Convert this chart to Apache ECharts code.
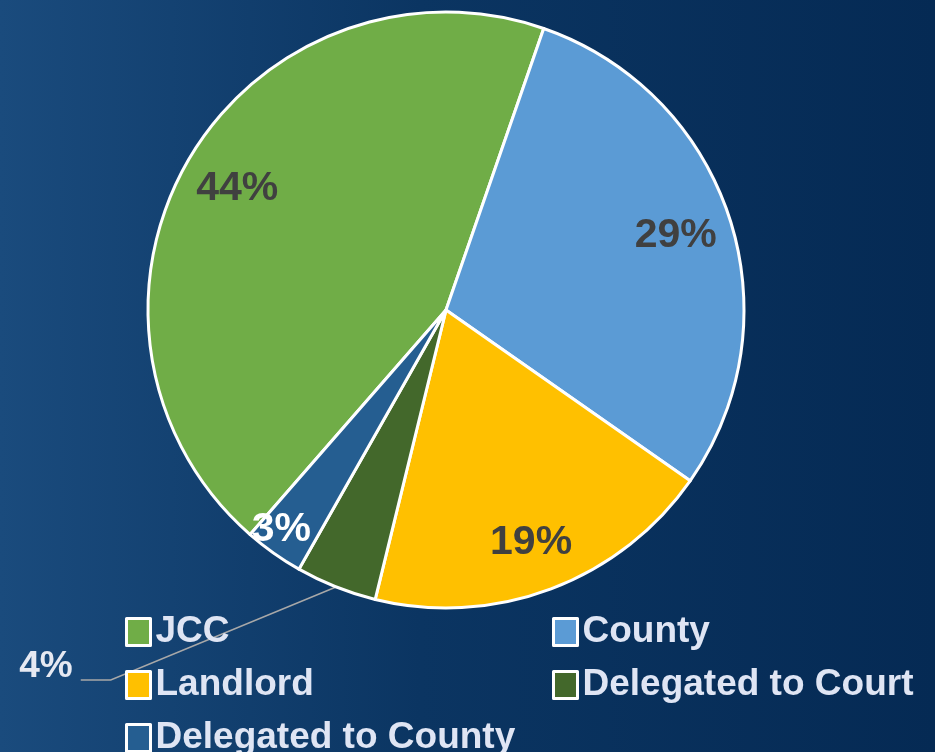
<!DOCTYPE html>
<html><head><meta charset="utf-8">
<script src="https://cdn.jsdelivr.net/npm/echarts@6/dist/echarts.min.js"></script>
<style>html,body{margin:0;padding:0;}#c{width:935px;height:752px;}</style>
</head><body><div id="c"></div>
<script>
const categories = ['JCC', 'County', 'Landlord', 'Delegated to Court', 'Delegated to County'];
const values = [43.9, 29.4, 19.1, 4.4, 3.2];
const valueLabels = ['44%', '29%', '19%', '4%', '3%'];
const colors = ['#70ad47', '#5b9bd5', '#ffc000', '#43682b', '#255e91'];

const FONT = '"Liberation Sans", Arial, sans-serif';
const chart = echarts.init(document.getElementById('c'));
const CX = 446, CY = 310, R = 298;
const START = 228.9;

const pieData = categories.map((n, i) => ({ name: n, value: values[i], itemStyle: { color: colors[i] } }));
const labelData = categories.map((n, i) => {
  const d = { name: n, value: values[i] };
  if (i === 3) {
    d.label = { position: 'outside', color: '#e6e9f2', fontSize: 37, lineHeight: 26, padding: [0, 8, 0, 0] };
    d.labelLine = { show: true, lineStyle: { color: '#a8a8a8', width: 1.5 } };
  }
  if (i === 4) {
    d.label = { color: '#ffffff' };
  }
  return d;
});

function legendCfg(left, top, names) {
  return {
    orient: 'vertical', left: left, top: top, itemGap: 13,
    itemWidth: 24, itemHeight: 27, icon: 'rect',
    itemStyle: { borderColor: '#ffffff', borderWidth: 3 },
    textStyle: { color: '#dfe5f4', fontSize: 37, fontWeight: 'bold', fontFamily: FONT, lineHeight: 40 },
    data: names
  };
}

chart.setOption({
  backgroundColor: {
    type: 'linear', x: 0, y: 0, x2: 1, y2: 0,
    colorStops: [
      { offset: 0, color: '#1a4b7d' },
      { offset: 0.45, color: '#0b3562' },
      { offset: 1, color: '#052a54' }
    ]
  },
  legend: [
    legendCfg(120, 607, ['JCC', 'Landlord']),
    legendCfg(120, 713, ['Delegated to County']),
    legendCfg(547, 607, ['County', 'Delegated to Court'])
  ],
  series: [
    {
      type: 'pie', center: [CX, CY], radius: [0, R], startAngle: START, clockwise: true,
      animation: false, silent: true,
      itemStyle: { borderColor: '#ffffff', borderWidth: 3 },
      label: { show: false }, labelLine: { show: false },
      data: pieData
    },
    {
      type: 'pie', center: [CX, CY], radius: [R * 0.6, R], startAngle: START, clockwise: true,
      animation: false, silent: true,
      itemStyle: { color: 'rgba(0,0,0,0)', borderWidth: 0 },
      label: {
        show: true, position: 'inside', color: '#404040', fontSize: 41, fontWeight: 'bold', fontFamily: FONT,
        formatter: p => p.dataIndex === 3 ? valueLabels[p.dataIndex] + '\n ' : valueLabels[p.dataIndex]
      },
      labelLine: { show: false },
      labelLayout: function (p) {
        if (p.dataIndex === 3) return { x: 50, y: 680, align: 'center', verticalAlign: 'middle' };
        if (p.dataIndex === 4) return { dx: -25, dy: 23 };
        if (p.dataIndex === 2) return { dy: 7 };
        return {};
      },
      data: labelData
    }
  ]
});
</script></body></html>
